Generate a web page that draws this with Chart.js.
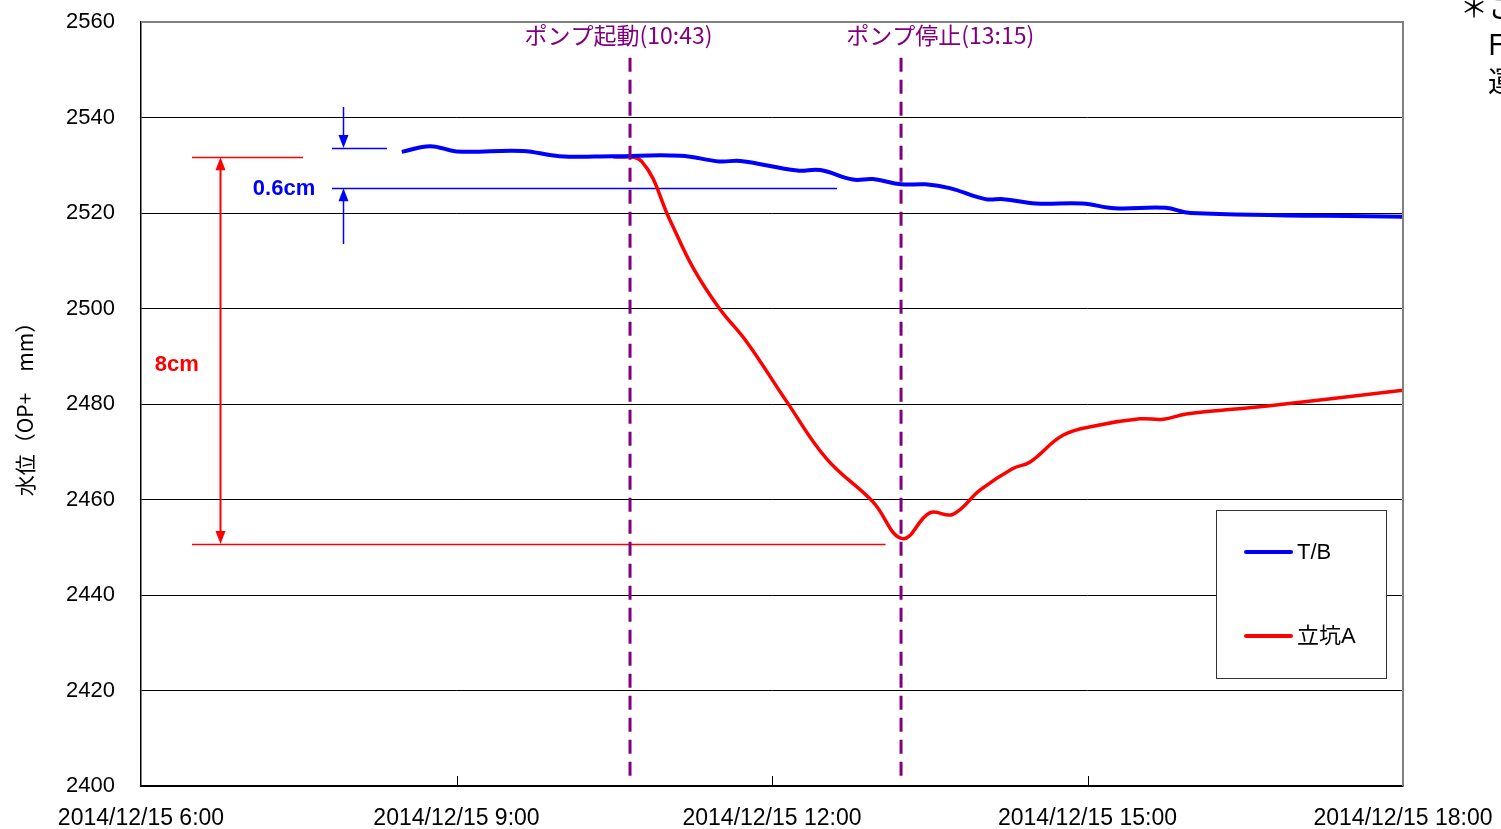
<!DOCTYPE html>
<html><head><meta charset="utf-8">
<script src="https://cdn.jsdelivr.net/npm/chart.js@4.4.1/dist/chart.umd.min.js"></script>
<style>
html,body{margin:0;padding:0;background:#fff;overflow:hidden;}
#wrap{position:relative;width:1501px;height:829px;overflow:hidden;background:#fff;}
#note{position:absolute;left:1460px;top:-12px;font-family:'Noto Sans CJK JP',sans-serif;font-size:28px;line-height:37px;white-space:pre;color:#000;}
</style></head><body>
<div id="wrap"><canvas id="c" width="1501" height="829"></canvas>
<div id="note">＊この
　F
　運</div></div>
<script>
// ---- data ----
const xTickHours = [6, 9, 12, 15, 18];
const xTickLabels = ['2014/12/15 6:00','2014/12/15 9:00','2014/12/15 12:00','2014/12/15 15:00','2014/12/15 18:00'];
const yTicks = [2400, 2420, 2440, 2460, 2480, 2500, 2520, 2540, 2560];
const yTitle = '水位（OP+　mm）';
const seriesNames = ['T/B', '立坑A'];

const tbHours  = [8.48, 8.75, 9.0, 9.63, 9.98, 10.49, 11.13, 11.5, 11.7, 12.24, 12.46, 12.77, 12.96, 13.23, 13.46, 13.69, 14.03, 14.2, 14.51, 14.95, 15.26, 15.74, 15.98, 18.0];
const tbLevels = [2532.8, 2534.0, 2532.9, 2533.0, 2531.9, 2531.9, 2532.0, 2530.8, 2530.9, 2528.9, 2529.0, 2527.0, 2527.1, 2526.0, 2526.0, 2525.2, 2522.9, 2522.9, 2522.0, 2522.0, 2521.0, 2521.1, 2520.0, 2519.2];

const shaftHours  = [10.49, 10.76, 11.03, 11.25, 11.5, 11.76, 12.14, 12.52, 12.96, 13.24, 13.5, 13.72, 13.98, 14.29, 14.45, 14.77, 15.09, 15.5, 15.72, 15.94, 16.71, 18.0];
const shaftLevels = [2531.8, 2530.8, 2518.5, 2508.5, 2500.0, 2493.0, 2480.5, 2468.5, 2459.5, 2451.8, 2457.2, 2456.9, 2462.0, 2466.5, 2467.8, 2473.5, 2475.5, 2476.9, 2476.8, 2477.9, 2479.6, 2482.9];

const pumpLabels = ['ポンプ起動(10:43)', 'ポンプ停止(13:15)'];
const pumpHours = [10.65, 13.227];
const pumpLabelHours = [10.54, 13.6];

const dropText = '8cm';
const dropLevels = [2531.7, 2450.7];
const riseText = '0.6cm';
const riseLevels = [2533.6, 2525.2];

// ---- layout for annotations (in axis units) ----
const ann = {
  pumpLine: [2552.5, 2401.7], pumpLabelLevel: 2557.3,
  dropGuides: [[6.485, 7.54], [6.485, 13.08]], dropArrowHour: 6.751, dropLabelAt: [6.34, 2488.2],
  riseGuides: [[7.816, 8.339], [7.816, 12.618]], riseArrowHour: 7.921, riseArrowEnds: [2542.2, 2513.5], riseLabelAt: [7.36, 2525.0]
};

const BLUE = '#0000FF', RED = '#FF0000', PURPLE = '#800080';
const NUMFONT = "'Liberation Sans','Noto Sans CJK JP',sans-serif";

function head(ctx, x, tipY, dir, color) { // dir=-1 points up, +1 points down
  ctx.beginPath();
  ctx.moveTo(x, tipY);
  ctx.lineTo(x - 5, tipY - dir * 13);
  ctx.lineTo(x + 5, tipY - dir * 13);
  ctx.closePath();
  ctx.fillStyle = color; ctx.fill();
}
function hline(ctx, c, h0, h1, v, color, w) {
  const X = c.scales.x, Y = c.scales.y;
  ctx.beginPath(); ctx.strokeStyle = color; ctx.lineWidth = w;
  const y = Math.round(Y.getPixelForValue(v)) + 0.5;
  ctx.moveTo(X.getPixelForValue(h0), y); ctx.lineTo(X.getPixelForValue(h1), y); ctx.stroke();
}

const annotationPlugin = {
  id: 'ann',
  beforeDatasetsDraw(c) {
    const ctx = c.ctx, X = c.scales.x, Y = c.scales.y;
    ctx.save();
    hline(ctx, c, ann.dropGuides[0][0], ann.dropGuides[0][1], dropLevels[0], RED, 1.5);
    hline(ctx, c, ann.dropGuides[1][0], ann.dropGuides[1][1], dropLevels[1], RED, 1.5);
    const ax = Math.round(X.getPixelForValue(ann.dropArrowHour)) + 0.5;
    const yt = Y.getPixelForValue(dropLevels[0]), yb = Y.getPixelForValue(dropLevels[1]);
    ctx.beginPath(); ctx.strokeStyle = RED; ctx.lineWidth = 2;
    ctx.moveTo(ax, yt + 10); ctx.lineTo(ax, yb - 10); ctx.stroke();
    head(ctx, ax, yt, -1, RED); head(ctx, ax, yb, 1, RED);
    ctx.font = "bold 22px " + NUMFONT; ctx.fillStyle = RED; ctx.textAlign = 'center'; ctx.textBaseline = 'middle';
    ctx.fillText(dropText, X.getPixelForValue(ann.dropLabelAt[0]), Y.getPixelForValue(ann.dropLabelAt[1]));
    hline(ctx, c, ann.riseGuides[0][0], ann.riseGuides[0][1], riseLevels[0], BLUE, 1.5);
    hline(ctx, c, ann.riseGuides[1][0], ann.riseGuides[1][1], riseLevels[1], BLUE, 1.5);
    const bx = Math.round(X.getPixelForValue(ann.riseArrowHour)) + 0.5;
    const b1 = Y.getPixelForValue(riseLevels[0]), b2 = Y.getPixelForValue(riseLevels[1]);
    const e1 = Y.getPixelForValue(ann.riseArrowEnds[0]), e2 = Y.getPixelForValue(ann.riseArrowEnds[1]);
    ctx.beginPath(); ctx.strokeStyle = BLUE; ctx.lineWidth = 1.5;
    ctx.moveTo(bx, e1); ctx.lineTo(bx, b1 - 10); ctx.moveTo(bx, e2); ctx.lineTo(bx, b2 + 10); ctx.stroke();
    head(ctx, bx, b1, 1, BLUE); head(ctx, bx, b2, -1, BLUE);
    ctx.font = "bold 22px " + NUMFONT; ctx.fillStyle = BLUE;
    ctx.fillText(riseText, X.getPixelForValue(ann.riseLabelAt[0]), Y.getPixelForValue(ann.riseLabelAt[1]));
    ctx.restore();
  },
  afterDatasetsDraw(c) {
    const ctx = c.ctx, X = c.scales.x, Y = c.scales.y, a = c.chartArea;
    ctx.save();
    ctx.strokeStyle = '#808080'; ctx.lineWidth = 2;
    ctx.beginPath(); ctx.moveTo(a.left, a.top); ctx.lineTo(a.right, a.top); ctx.lineTo(a.right, a.bottom); ctx.stroke();
    ctx.strokeStyle = '#000'; ctx.lineWidth = 1;
    xTickHours.slice(1, -1).forEach(h => {
      const x = Math.round(X.getPixelForValue(h)) + 0.5;
      ctx.beginPath(); ctx.moveTo(x, a.bottom); ctx.lineTo(x, a.bottom - 10); ctx.stroke();
    });
    ctx.strokeStyle = PURPLE; ctx.lineWidth = 3; ctx.setLineDash([14, 8]);
    pumpHours.forEach(h => {
      const x = X.getPixelForValue(h);
      ctx.beginPath(); ctx.moveTo(x, Y.getPixelForValue(ann.pumpLine[0])); ctx.lineTo(x, Y.getPixelForValue(ann.pumpLine[1])); ctx.stroke();
    });
    ctx.setLineDash([]);
    ctx.font = "23px 'Noto Sans CJK JP',sans-serif"; ctx.fillStyle = PURPLE; ctx.textAlign = 'center'; ctx.textBaseline = 'middle';
    pumpLabels.forEach((t, i) => ctx.fillText(t, X.getPixelForValue(pumpLabelHours[i]), Y.getPixelForValue(ann.pumpLabelLevel)));
    const lx = a.right - 187, ly = a.top + 488, lw = 170, lh = 168;
    ctx.fillStyle = '#fff'; ctx.fillRect(lx, ly, lw, lh);
    ctx.strokeStyle = '#333'; ctx.lineWidth = 1; ctx.strokeRect(lx + 0.5, ly + 0.5, lw, lh);
    const cols = [BLUE, RED], rows = [42, 126];
    ctx.font = "22px 'Liberation Sans','Noto Sans CJK JP',sans-serif"; ctx.textAlign = 'left'; ctx.textBaseline = 'middle';
    seriesNames.forEach((n, i) => {
      ctx.strokeStyle = cols[i]; ctx.lineWidth = 4; ctx.lineCap = 'round';
      ctx.beginPath(); ctx.moveTo(lx + 30, ly + rows[i]); ctx.lineTo(lx + 75, ly + rows[i]); ctx.stroke();
      ctx.fillStyle = '#000'; ctx.fillText(n, lx + 81, ly + rows[i] + 1);
    });
    ctx.restore();
  }
};

new Chart(document.getElementById('c'), {
  type: 'line',
  data: {
    datasets: [
      { label: seriesNames[0], data: tbHours.map((h, i) => ({ x: h, y: tbLevels[i] })), borderColor: BLUE, borderWidth: 4, pointRadius: 0, tension: 0.4, fill: false },
      { label: seriesNames[1], data: shaftHours.map((h, i) => ({ x: h, y: shaftLevels[i] })), borderColor: RED, borderWidth: 3.5, pointRadius: 0, tension: 0.4, fill: false }
    ]
  },
  options: {
    responsive: false, animation: false, devicePixelRatio: 1,
    layout: { padding: { top: 22, right: 98, left: 0, bottom: 0 } },
    plugins: { legend: { display: false }, tooltip: { enabled: false } },
    scales: {
      x: {
        type: 'linear', min: 6, max: 18,
        afterFit: s => { s.height = 43; s.paddingLeft = 0; s.paddingRight = 0; },
        ticks: { stepSize: 3, maxRotation: 0, autoSkip: false, padding: 19, color: '#000',
          font: { family: NUMFONT, size: 23 },
          callback: v => { const k = xTickHours.indexOf(v); return k >= 0 ? xTickLabels[k] : ''; } },
        grid: { drawOnChartArea: false, drawTicks: false },
        border: { display: true, color: '#000', width: 1.5 }
      },
      y: {
        min: 2400, max: 2560,
        afterFit: s => { s.width = 141; s.paddingTop = 0; s.paddingBottom = 0; },
        ticks: { stepSize: 20, padding: 26, color: '#000', font: { family: NUMFONT, size: 22 },
          callback: v => yTicks.includes(v) ? String(v) : '' },
        grid: { color: '#000', lineWidth: 1, drawTicks: false },
        border: { display: true, color: '#000', width: 1.5 },
        title: { display: true, text: yTitle, color: '#000', font: { family: "'Noto Sans CJK JP',sans-serif", size: 21 }, padding: { top: 12, bottom: 0 } }
      }
    }
  },
  plugins: [annotationPlugin]
});
</script>
</body></html>
